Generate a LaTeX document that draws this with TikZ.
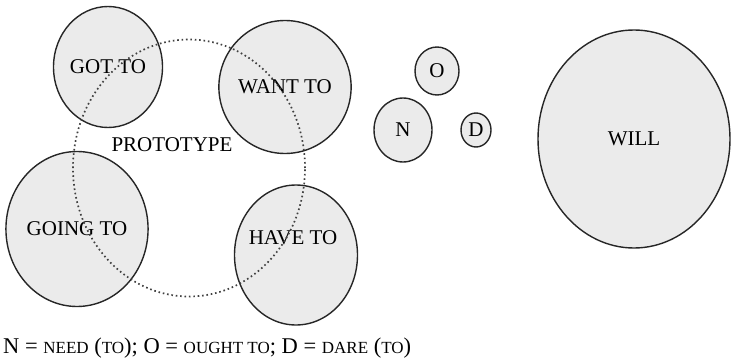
\documentclass[tikz,border=0pt]{standalone}
\usepackage{fontspec}
\setmainfont{Liberation Serif}
\usepackage{tikz}
\usetikzlibrary{shapes.geometric}
\tikzstyle{modal}=[ellipse, draw=black!85, fill=black!8, line width=1.4pt, inner sep=0pt, font=\fontsize{21}{25}\selectfont]
\tikzstyle{proto}=[ellipse, draw=black!75, line width=1.7pt, dash pattern=on 1.6pt off 2.8pt, inner sep=0pt]
\newcommand{\smc}[1]{{\fontsize{17}{20}\selectfont #1}}

\begin{document}
\begin{tikzpicture}[x=1pt, y=-1pt]
      \useasboundingbox (0,0) rectangle (731,361);

      \node[modal, minimum width=109pt, minimum height=121pt] (got)   at (108,67)  {GOT TO};
      \node[modal, minimum width=125pt, minimum height=133pt] (want)  at (285,87)  {WANT TO};
      \node[modal, minimum width=139pt, minimum height=155pt] (going) at (77,229)  {GOING TO};
      \node[modal, minimum width=123pt, minimum height=140pt,
            label={[font=\fontsize{21}{25}\selectfont, xshift=-3pt, yshift=17pt]center:HAVE TO}] (have) at (296,255) {};

      \node[modal, minimum width=44pt, minimum height=48pt]   (o)    at (437,71)  {O};
      \node[modal, minimum width=58pt, minimum height=64pt]   (n)    at (403,130) {N};
      \node[modal, minimum width=30pt, minimum height=34pt]   (d)    at (476,130) {D};
      \node[modal, minimum width=192pt, minimum height=218pt] (will) at (634,139) {WILL};

      \node[proto, minimum width=232pt, minimum height=257pt] (proto) at (189,168) {};
      \node[font=\fontsize{21}{25}\selectfont] (prototxt) at (172,145) {PROTOTYPE};

      \node[anchor=base west, inner sep=0pt, font=\fontsize{22.5}{28}\selectfont] (key) at (3,353)
            {N = \smc{NEED} (\smc{TO}); O = \smc{OUGHT TO}; D = \smc{DARE} (\smc{TO})};
\end{tikzpicture}
\end{document}
